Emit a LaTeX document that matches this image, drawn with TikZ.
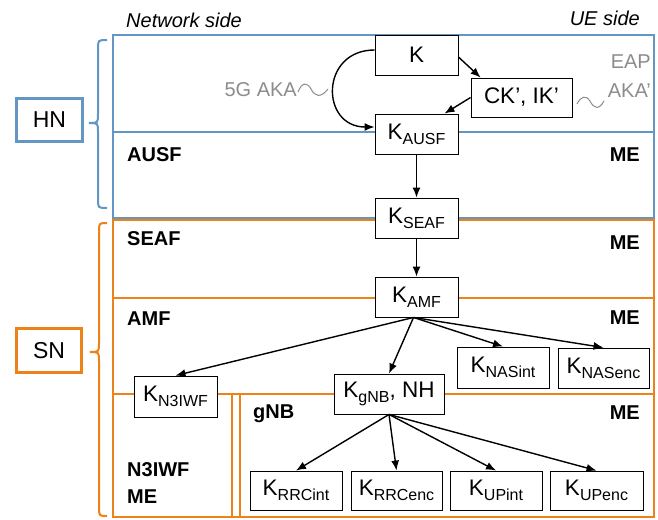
\documentclass[tikz,border=0pt]{standalone}
\usepackage{fontspec}
\setmainfont{Liberation Sans}
\usetikzlibrary{arrows.meta}
\definecolor{hnblue}{RGB}{100,150,195}
\definecolor{snorange}{RGB}{237,130,25}
\definecolor{akagray}{RGB}{140,140,140}
\newcommand{\Ksub}[1]{K\raisebox{-5pt}{\fontsize{16}{16}\selectfont #1}}
\begin{document}
\begin{tikzpicture}[x=1pt,y=-1pt,
  key/.style={draw=black,line width=0.9pt,fill=white,inner sep=0pt,font=\fontsize{22.5}{22.5}\selectfont},
  arr/.style={line width=1.4pt,-{Latex[length=10pt,width=8pt]}},
  region/.style={line width=1.2pt},
  brace/.style={line width=2pt},
  bold/.style={font=\fontsize{20}{20}\selectfont\bfseries,inner sep=0pt},
  side/.style={font=\fontsize{20}{20}\selectfont\itshape,inner sep=0pt},
  aka/.style={font=\fontsize{20}{20}\selectfont,text=akagray,inner sep=0pt},
  netbox/.style={line width=3pt,inner sep=0pt,font=\fontsize{23}{23}\selectfont}]
\useasboundingbox[fill=white] (0,0) rectangle (658,519);

% regions
\draw[region,hnblue] (113,35) rectangle (654,218);
\draw[region,hnblue] (113,132) -- (654,132);
\draw[region,snorange] (113,220) rectangle (654,517);
\draw[region,snorange] (113,298) -- (654,298);
\draw[region,snorange] (113,394) -- (654,394);
\draw[region,snorange] (232,394) -- (232,517);
\draw[region,snorange] (240,394) -- (240,517);

% braces
\draw[brace,hnblue] (107,40) .. controls (98,40) .. (98,49) -- (98,114) .. controls (98,123) .. (89,123)
  .. controls (98,123) .. (98,132) -- (98,199) .. controls (98,208) .. (107,208);
\draw[brace,snorange] (107,223) .. controls (99,223) .. (99,232) -- (99,343) .. controls (99,352) .. (90,352)
  .. controls (99,352) .. (99,361) -- (99,507) .. controls (99,516) .. (107,516);

% HN / SN boxes
\node[netbox,draw=hnblue,minimum width=66,minimum height=43] (HN) at (49.5,120) {HN};
\node[netbox,draw=snorange,minimum width=65,minimum height=44] (SN) at (49,350.5) {SN};

% side labels
\node[side,anchor=west] (netside) at (126,20) {Network side};
\node[side,anchor=east] (ueside) at (640,18) {UE side};

% AKA labels and waves
\node[aka,anchor=east] (fgaka) at (297,90) {5G AKA};
\draw[akagray,line width=1pt] (298,92) .. controls (302,82) and (307,82) .. (311,89)
  .. controls (315,97) and (321,98) .. (328,89);
\node[aka,anchor=east] (eap) at (651,62) {EAP};
\node[aka,anchor=east] (akap) at (651,91) {AKA'};
\draw[akagray,line width=1pt] (577,104) .. controls (581,96) and (586,95) .. (590,101)
  .. controls (594,109) and (599,110) .. (604,101);

% bold region labels
\node[bold,anchor=west] (ausf) at (127,155) {AUSF};
\node[bold,anchor=east] (me1) at (640,155) {ME};
\node[bold,anchor=west] (seaf) at (127,239) {SEAF};
\node[bold,anchor=east] (me2) at (640,243) {ME};
\node[bold,anchor=west] (amf) at (127,319) {AMF};
\node[bold,anchor=east] (me3) at (640,318) {ME};
\node[bold,anchor=west] (gnb) at (253,414) {gNB};
\node[bold,anchor=east] (me4) at (640,413) {ME};
\node[bold,anchor=west] (n3iwf) at (127,470) {N3IWF};
\node[bold,anchor=west] (me5) at (127,497) {ME};

% key nodes
\node[key,minimum width=83,minimum height=40] (K) at (416.5,55) {K};
\node[key,minimum width=101,minimum height=39] (CK) at (521.5,97.5) {CK’, IK’};
\node[key,minimum width=83,minimum height=40] (KAUSF) at (416.5,134) {\Ksub{AUSF}};
\node[key,minimum width=83,minimum height=40] (KSEAF) at (416.5,218) {\Ksub{SEAF}};
\node[key,minimum width=83,minimum height=40] (KAMF) at (416.5,297) {\Ksub{AMF}};
\node[key,minimum width=92,minimum height=41] (KNASint) at (503,367.5) {\Ksub{NASint}};
\node[key,minimum width=91,minimum height=40] (KNASenc) at (603.5,368) {\Ksub{NASenc}};
\node[key,minimum width=110,minimum height=40] (KgNB) at (389,394) {\Ksub{gNB}, NH};
\node[key,minimum width=83,minimum height=41] (KN3IWF) at (175.5,396.5) {\Ksub{N3IWF}};
\node[key,minimum width=92,minimum height=39] (KRRCint) at (296,490.5) {\Ksub{RRCint}};
\node[key,minimum width=91,minimum height=39] (KRRCenc) at (396.5,490.5) {\Ksub{RRCenc}};
\node[key,minimum width=92,minimum height=39] (KUPint) at (496,490.5) {\Ksub{UPint}};
\node[key,minimum width=93,minimum height=39] (KUPenc) at (596.5,490.5) {\Ksub{UPenc}};

% arrows
\draw[arr] ([yshift=-2]K.east) -- ([xshift=10]CK.north west);
\draw[arr] (CK.west) -- ([xshift=28]KAUSF.north);
\draw[arr] ([yshift=5]K.west) .. controls (320,50) and (320,127) .. ([yshift=7]KAUSF.west);
\draw[arr] (KAUSF) -- (KSEAF);
\draw[arr] (KSEAF) -- (KAMF);
\draw[arr] ([xshift=-3]KAMF.south) -- (KN3IWF.north);
\draw[arr] ([xshift=-3]KAMF.south) -- (KgNB.north);
\draw[arr] ([xshift=-3]KAMF.south) -- (KNASint.north);
\draw[arr] ([xshift=-3]KAMF.south) -- (KNASenc.north);
\draw[arr] (KgNB.south) -- (KRRCint.north);
\draw[arr] (KgNB.south) -- (KRRCenc.north);
\draw[arr] (KgNB.south) -- (KUPint.north);
\draw[arr] (KgNB.south) -- (KUPenc.north);
\end{tikzpicture}
\end{document}
